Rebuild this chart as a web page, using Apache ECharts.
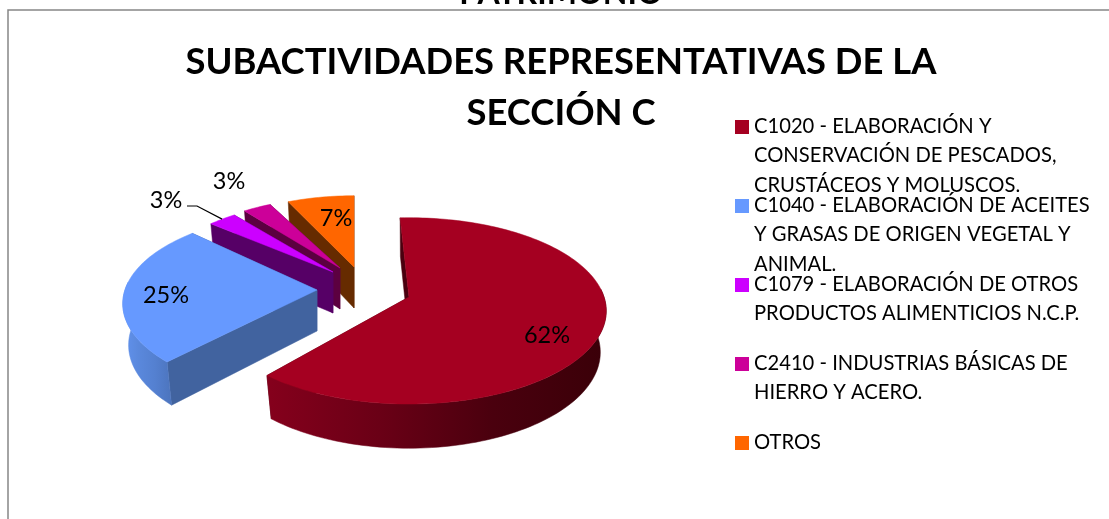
<!DOCTYPE html>
<html>
<head>
<meta charset="utf-8">
<style>html,body{margin:0;padding:0;background:#fff}#c{width:1109px;height:519px}</style>
<script src="https://cdn.jsdelivr.net/npm/echarts@6/dist/echarts.min.js"></script>
</head>
<body>
<div id="c"></div>
<script>
// ---- data ----
const categories = [
  'C1020 - ELABORACIÓN Y\nCONSERVACIÓN DE PESCADOS,\nCRUSTÁCEOS Y MOLUSCOS.',
  'C1040 - ELABORACIÓN DE ACEITES\nY GRASAS DE ORIGEN VEGETAL Y\nANIMAL.',
  'C1079 - ELABORACIÓN DE OTROS\nPRODUCTOS ALIMENTICIOS N.C.P.',
  'C2410 - INDUSTRIAS BÁSICAS DE\nHIERRO Y ACERO.',
  'OTROS'
];
const shares = [62, 25, 3, 3, 7];
const titleMain = 'SUBACTIVIDADES REPRESENTATIVAS DE LA\nSECCIÓN C';
const titleClipped = 'PATRIMONIO';

// ---- styling and layout ----
const FONT = 'Lato';
const topColors  = ['#A50021', '#6699FF', '#CC00FF', '#CC0099', '#FF6600'];
const wallColors = ['#4a000f', '#41639F', '#560066', '#5C0040', '#662B00'];
const rimStops = [
  ['#85001c', '#6a0016', '#4a000e', '#3a0008'],
  ['#6293ee', '#5a88dc', '#5480d0', '#4c74bd'],
  ['#560066', '#560066', '#560066', '#560066'],
  ['#5C0040', '#5C0040', '#5C0040', '#5C0040'],
  ['#662B00', '#662B00', '#662B00', '#662B00']
];
const pieCenter = [360, 285];
const explode = [[49, 12], [-43, 5], [-27, -13], [-20, -17], [-6, -18]];
const sliceScale = [0.99, 0.975, 0.89, 0.88, 0.89];
const sliceSpin = [0, 4, 0, 1, 3];
const paintOrder = [5, 4, 3, 2, 1];
const labelOffset = [[138, 38], [-151, 5], [-167, -72], [-111, -87], [-18, -49]];
const legendFirstLineY = [126, 205, 284, 363, 442];
const startAngle = -3, RX = 197, RY = 92, PERSP = 0.149, DEPTH = 41;
const LINE_H = 29.5, LABEL_SIZE = 23.5, LEGEND_SIZE = 20.2;

const total = shares.reduce((a, b) => a + b, 0);
const rad = d => d * Math.PI / 180;

function project(i, deg, base) {
  const u = Math.sin(rad(deg)), v = -Math.cos(rad(deg));
  const s = sliceScale[i] / (1 - PERSP * v);
  const ax = pieCenter[0] + explode[i][0], ay = pieCenter[1] + explode[i][1];
  if (base) return [ax + 0.97 * RX * u * s, ay + DEPTH + 1.03 * RY * v * s];
  return [ax + RX * u * s, ay + RY * v * s];
}
function arc(i, a, b, base) {
  const pts = [], n = Math.max(2, Math.ceil(Math.abs(b - a) / 1.5));
  for (let k = 0; k <= n; k++) pts.push(project(i, a + (b - a) * k / n, base));
  return pts;
}
function renderSlice(i, api) {
  const value = api.value(0);
  let before = 0;
  for (let k = 0; k < i; k++) before += shares[k];
  const a0 = startAngle + sliceSpin[i] + before / total * 360;
  const a1 = a0 + value / total * 360;
  const ax = pieCenter[0] + explode[i][0], ay = pieCenter[1] + explode[i][1];
  const apexT = [ax, ay], apexB = [ax, ay + DEPTH];
  const kids = [];
  const poly = (points, fill) => kids.push({
    type: 'polygon', shape: { points },
    style: { fill, stroke: fill, lineWidth: 0.5 }
  });
  poly([apexT, project(i, a1), project(i, a1, true), apexB], wallColors[i]);
  poly([apexT, project(i, a0), project(i, a0, true), apexB], wallColors[i]);
  const r0 = Math.max(a0, 85), r1 = Math.min(a1, 275);
  if (r1 > r0) {
    const s = rimStops[i];
    poly(arc(i, r0, r1).concat(arc(i, r1, r0, true)),
      new echarts.graphic.LinearGradient(0, 0, 1, 0, s.map((c, k) => ({ offset: k / (s.length - 1), color: c }))));
  }
  poly([apexT].concat(arc(i, a0, a1)), topColors[i]);
  const lx = ax + labelOffset[i][0], ly = ay + labelOffset[i][1];
  if (i === 2) {
    const rimMid = project(i, (a0 + a1) / 2);
    kids.push({
      type: 'polyline',
      shape: { points: [[lx + 21, ly + 6], [lx + 31, ly + 6], rimMid] },
      style: { stroke: '#000', lineWidth: 1.2, fill: null }
    });
  }
  kids.push({
    type: 'text',
    style: {
      text: Math.round(value / total * 100) + '%', x: lx, y: ly,
      align: 'center', verticalAlign: 'middle', fill: '#000',
      font: LABEL_SIZE + 'px ' + FONT
    }
  });
  return { type: 'group', children: kids };
}

const chart = echarts.init(document.getElementById('c'), null, { renderer: 'canvas' });
chart.setOption({
  animation: false,
  backgroundColor: '#fff',
  title: [
    { text: titleClipped, left: 556, top: -27, textAlign: 'center',
      textStyle: { fontFamily: FONT, fontWeight: 'bold', fontSize: 32, color: '#000' } },
    { text: titleMain, left: 556, top: 32, textAlign: 'center',
      textStyle: { fontFamily: FONT, fontWeight: 'bold', fontSize: 36.4, lineHeight: 51, color: '#000' } }
  ],
  legend: categories.map((name, i) => {
    const n = name.split('\n').length, h = n * LINE_H;
    return {
      data: [name], left: 735, top: legendFirstLineY[i] - LINE_H / 2,
      padding: 0, orient: 'vertical', selectedMode: false,
      itemWidth: 14, itemHeight: h,
      icon: 'path://M0 ' + (LINE_H / 2 - 7 + 1) + 'H14V' + (LINE_H / 2 + 7 + 1) + 'H0ZM0 0L14 0M0 ' + h + 'L14 ' + h,
      textStyle: { fontFamily: FONT, fontSize: LEGEND_SIZE, lineHeight: LINE_H, color: '#000' }
    };
  }),
  graphic: [{
    type: 'rect', silent: true, z: -1,
    shape: { x: 8, y: 10, width: 1300, height: 700 },
    style: { fill: 'none', stroke: '#868686', lineWidth: 1.5 }
  }],
  series: categories.map((name, i) => ({
    type: 'custom',
    name,
    coordinateSystem: 'none',
    silent: true,
    z: paintOrder[i] + 2,
    itemStyle: { color: topColors[i] },
    data: [[shares[i]]],
    renderItem: (params, api) => renderSlice(i, api)
  }))
});
</script>
</body>
</html>
